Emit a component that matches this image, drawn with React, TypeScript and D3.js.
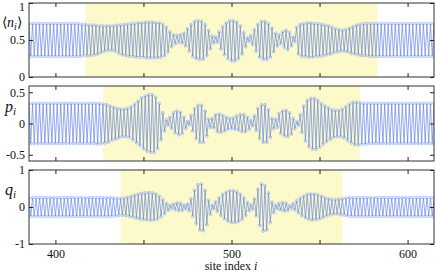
import * as d3 from "d3";
import React, { useRef, useEffect } from "react";

// site indices shown on the x axis
const sites = d3.range(385, 616);

// outside the shaded window the values just alternate: [odd site, even site]
const nOuter = [0.72, 0.28];
const pOuter = [0.32, -0.32];
const qOuter = [0.25, -0.25];

// per-site values inside the window (starting at the given site)
const nStart = 413;
const nInner = [
    0.72, 0.28, 0.71, 0.29, 0.71, 0.29, 0.70, 0.29, 0.70, 0.30, 0.70, 0.31, 0.69, 0.33, 0.69, 0.35,
    0.69, 0.36, 0.69, 0.36, 0.69, 0.35, 0.70, 0.32, 0.70, 0.30, 0.71, 0.29, 0.71, 0.28, 0.72, 0.28,
    0.72, 0.27, 0.73, 0.27, 0.73, 0.27, 0.74, 0.26, 0.74, 0.26, 0.74, 0.26, 0.73, 0.26, 0.73, 0.27,
    0.71, 0.29, 0.67, 0.34, 0.61, 0.41, 0.57, 0.45, 0.56, 0.47, 0.57, 0.46, 0.59, 0.42, 0.65, 0.35,
    0.71, 0.28, 0.75, 0.25, 0.76, 0.24, 0.75, 0.24, 0.71, 0.29, 0.63, 0.38, 0.55, 0.46, 0.54, 0.47,
    0.61, 0.38, 0.68, 0.30, 0.73, 0.25, 0.76, 0.22, 0.76, 0.22, 0.74, 0.25, 0.69, 0.31, 0.60, 0.41,
    0.53, 0.48, 0.56, 0.44, 0.64, 0.35, 0.71, 0.27, 0.75, 0.24, 0.75, 0.24, 0.72, 0.27, 0.66, 0.34,
    0.59, 0.42, 0.57, 0.45, 0.61, 0.40, 0.63, 0.37, 0.60, 0.42, 0.54, 0.48, 0.67, 0.31, 0.71, 0.28,
    0.72, 0.28, 0.73, 0.27, 0.73, 0.27, 0.72, 0.28, 0.72, 0.28, 0.71, 0.29, 0.70, 0.30, 0.69, 0.31,
    0.67, 0.33, 0.65, 0.34, 0.64, 0.35, 0.63, 0.35, 0.64, 0.34, 0.66, 0.32, 0.68, 0.31, 0.70, 0.30,
    0.71, 0.29, 0.72, 0.29, 0.72, 0.28, 0.72, 0.28, 0.72, 0.28, 0.72, 0.28, 0.72, 0.28, 0.72
];

const pStart = 423;
const pInner = [
    0.32, -0.33, 0.32, -0.32, 0.31, -0.31, 0.30, -0.30, 0.28, -0.27, 0.26, -0.25, 0.24, -0.23, 0.23, -0.21,
    0.23, -0.21, 0.24, -0.22, 0.27, -0.26, 0.31, -0.31, 0.36, -0.35, 0.41, -0.40, 0.44, -0.44, 0.46, -0.46,
    0.46, -0.46, 0.42, -0.40, 0.32, -0.26, 0.17, -0.12, 0.06, -0.03, 0.10, -0.08, 0.17, -0.15, 0.20, -0.18,
    0.18, -0.16, 0.10, -0.08, 0.03, -0.02, 0.13, -0.12, 0.24, -0.24, 0.29, -0.30, 0.29, -0.30, 0.20, -0.20,
    0.07, -0.06, 0.08, -0.07, 0.14, -0.13, 0.15, -0.14, 0.13, -0.12, 0.10, -0.09, 0.08, -0.08, 0.09, -0.09,
    0.12, -0.11, 0.14, -0.13, 0.14, -0.13, 0.10, -0.09, 0.05, -0.04, 0.12, -0.11, 0.24, -0.24, 0.30, -0.30,
    0.30, -0.30, 0.22, -0.22, 0.08, -0.08, 0.07, -0.06, 0.16, -0.16, 0.20, -0.20, 0.21, -0.21, 0.17, -0.17,
    0.08, -0.08, 0.03, -0.03, 0.14, -0.14, 0.28, -0.28, 0.37, -0.37, 0.40, -0.41, 0.40, -0.41, 0.37, -0.38,
    0.32, -0.33, 0.28, -0.29, 0.25, -0.25, 0.22, -0.22, 0.21, -0.21, 0.21, -0.21, 0.23, -0.23, 0.27, -0.27,
    0.31, -0.31, 0.34, -0.34, 0.34, -0.34, 0.33, -0.33, 0.32, -0.33, 0.32
];

const qStart = 433;
const qInner = [
    0.24, -0.24, 0.23, -0.23, 0.23, -0.22, 0.24, -0.23, 0.26, -0.25, 0.29, -0.27, 0.32, -0.30, 0.35, -0.32,
    0.37, -0.34, 0.38, -0.35, 0.39, -0.36, 0.38, -0.35, 0.35, -0.32, 0.29, -0.26, 0.20, -0.18, 0.10, -0.09,
    0.05, -0.04, 0.08, -0.07, 0.11, -0.10, 0.10, -0.09, 0.05, -0.05, 0.08, -0.10, 0.22, -0.25, 0.45, -0.45,
    0.60, -0.62, 0.62, -0.64, 0.45, -0.48, 0.18, -0.20, 0.05, -0.05, 0.14, -0.12, 0.25, -0.23, 0.34, -0.32,
    0.40, -0.38, 0.44, -0.42, 0.44, -0.42, 0.41, -0.39, 0.35, -0.33, 0.25, -0.23, 0.12, -0.10, 0.06, -0.06,
    0.22, -0.24, 0.48, -0.50, 0.62, -0.65, 0.58, -0.62, 0.38, -0.42, 0.13, -0.15, 0.05, -0.05, 0.09, -0.08,
    0.12, -0.11, 0.10, -0.09, 0.04, -0.04, 0.09, -0.08, 0.17, -0.16, 0.24, -0.23, 0.30, -0.29, 0.34, -0.33,
    0.35, -0.35, 0.35, -0.34, 0.33, -0.32, 0.29, -0.28, 0.25, -0.24, 0.22, -0.21, 0.20, -0.19, 0.20, -0.19,
    0.21, -0.20, 0.22, -0.22, 0.24, -0.24, 0.25
];

// shaded windows [from, to] in site index
const nShade = [417, 583];
const pShade = [427, 573];
const qShade = [437, 563];

const xTicks = [400, 450, 500, 550, 600];
const xLabels = [400, 500, 600];

function buildSeries(outer, start, inner) {
    return sites.map((s) => {
        const k = s - start;
        const v = k >= 0 && k < inner.length ? inner[k] : outer[s % 2 === 1 ? 0 : 1];
        return { site: s, value: v };
    });
}

const width = 436;
const height = 275;
const left = 29;
const right = 434;

const panels = [
    { key: "n", top: 3, bottom: 77, domain: [0, 1], ticks: [0, 0.5, 1], shade: nShade, data: buildSeries(nOuter, nStart, nInner) },
    { key: "p", top: 86, bottom: 161, domain: [-0.6, 0.6], ticks: [-0.5, 0, 0.5], shade: pShade, data: buildSeries(pOuter, pStart, pInner) },
    { key: "q", top: 170, bottom: 244, domain: [-1, 1], ticks: [-1, 0, 1], shade: qShade, data: buildSeries(qOuter, qStart, qInner) },
];

const serif = "Liberation Serif, Times New Roman, Times, serif";

function Panel({ panel, xScale, last }) {
    const axesRef = useRef(null);

    const yScale = d3.scaleLinear().domain(panel.domain).range([panel.bottom, panel.top]);

    const line = d3.line()
        .x((d) => xScale(d.site))
        .y((d) => yScale(d.value));

    useEffect(() => {
        const g = d3.select(axesRef.current);
        g.selectAll("*").remove();

        const fmt = (d) => String(d);

        const yl = g.append("g")
            .attr("transform", `translate(${left},0)`)
            .call(d3.axisLeft(yScale).tickValues(panel.ticks).tickSize(-4).tickSizeOuter(0).tickPadding(4).tickFormat(fmt));
        // keep the top label inside the picture
        yl.selectAll(".tick text")
            .filter((d) => yScale(d) < 8)
            .attr("dy", "0.6em");

        g.append("g")
            .attr("transform", `translate(${right},0)`)
            .call(d3.axisRight(yScale).tickValues(panel.ticks).tickSize(-4).tickSizeOuter(0).tickFormat(() => ""));
        g.append("g")
            .attr("transform", `translate(0,${panel.top})`)
            .call(d3.axisTop(xScale).tickValues(xTicks).tickSize(-4).tickSizeOuter(0).tickFormat(() => ""));
        g.append("g")
            .attr("transform", `translate(0,${panel.bottom})`)
            .call(d3.axisBottom(xScale).tickValues(xTicks).tickSize(-4).tickSizeOuter(0).tickPadding(5)
                .tickFormat((d) => (last && xLabels.includes(d) ? String(d) : "")));

        g.selectAll(".domain").remove();
        g.selectAll(".tick line").attr("stroke", "#222");
        g.selectAll("text").attr("font-family", serif).attr("font-size", 12).attr("fill", "#111");
    }, [panel, xScale, yScale, last]);

    const clipId = `clip-${panel.key}`;

    return (
        <g>
            <defs>
                <clipPath id={clipId}>
                    <rect x={left} y={panel.top} width={right - left} height={panel.bottom - panel.top} />
                </clipPath>
            </defs>
            <rect
                x={xScale(panel.shade[0])}
                y={panel.top}
                width={xScale(panel.shade[1]) - xScale(panel.shade[0])}
                height={panel.bottom - panel.top}
                fill="#fcfacb"
            />
            <g clipPath={`url(#${clipId})`}>
                <path d={line(panel.data)} fill="none" stroke="#4f72e6" strokeOpacity={0.85} strokeWidth={0.7} />
                {panel.data.map((d) => (
                    <circle
                        key={d.site}
                        cx={xScale(d.site)}
                        cy={yScale(d.value)}
                        r={1.4}
                        fill="none"
                        stroke="#85a0f0"
                        strokeWidth={0.6}
                    />
                ))}
            </g>
            <rect
                x={left}
                y={panel.top}
                width={right - left}
                height={panel.bottom - panel.top}
                fill="none"
                stroke="#333"
                strokeWidth={1}
            />
            <g ref={axesRef} />
        </g>
    );
}

export default function App() {
    const xScale = d3.scaleLinear().domain([385, 615]).range([left, right]);

    return (
        <svg
            width={width}
            height={height}
            style={{ position: "absolute", left: 0, top: 0, background: "#fff" }}
        >
            {panels.map((p, i) => (
                <Panel key={p.key} panel={p} xScale={xScale} last={i === panels.length - 1} />
            ))}

            <text x={2} y={27} fontFamily={serif} fontSize={14} fill="#111">
                ⟨<tspan fontStyle="italic">n</tspan>
                <tspan fontStyle="italic" fontSize={10} dy={3}>i</tspan>
                <tspan dy={-3}>⟩</tspan>
            </text>
            <text x={5} y={112} fontFamily={serif} fontSize={16} fill="#111">
                <tspan fontStyle="italic">p</tspan>
                <tspan fontStyle="italic" fontSize={11} dy={3}>i</tspan>
            </text>
            <text x={5} y={195} fontFamily={serif} fontSize={16} fill="#111">
                <tspan fontStyle="italic">q</tspan>
                <tspan fontStyle="italic" fontSize={11} dy={3}>i</tspan>
            </text>

            <text x={231} y={270} textAnchor="middle" fontFamily={serif} fontSize={12} fill="#111">
                site index <tspan fontStyle="italic">i</tspan>
            </text>
        </svg>
    );
}
